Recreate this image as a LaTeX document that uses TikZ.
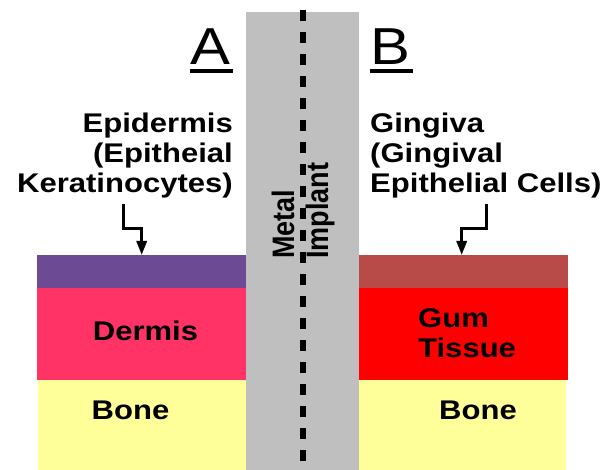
\documentclass[tikz,border=0pt]{standalone}
\usepackage{fontspec}
\setmainfont{Liberation Sans}
\usepackage{graphicx}
\usetikzlibrary{arrows.meta}
\definecolor{epiA}{HTML}{6D4A94}
\definecolor{epiB}{HTML}{B84A48}
\definecolor{dermis}{HTML}{FF3366}
\definecolor{gum}{HTML}{FF0000}
\definecolor{bone}{HTML}{FFFF99}
\definecolor{metal}{HTML}{BFBFBF}
\newcommand{\hs}[1]{\scalebox{1.15}[1]{#1}}
\tikzset{
  lab/.style={font=\fontsize{27}{30}\selectfont\bfseries, inner sep=0pt, text=black},
  big/.style={font=\fontsize{52}{52}\selectfont, inner sep=0pt},
  layer/.style={draw=none},
  arr/.style={line width=3pt, -{Triangle[length=14pt,width=10pt]}},
  uline/.style={line width=3.3pt},
}
\begin{document}
\begin{tikzpicture}[x=1pt,y=-1pt]
\useasboundingbox (0,0) rectangle (611,470);
% left column
\fill[epiA] (36.5,255) rectangle (246,288);
\fill[dermis] (36.5,288) rectangle (246,380);
\fill[bone] (38.3,380) rectangle (246,470);
% right column
\fill[epiB] (358.5,255) rectangle (567.5,288);
\fill[gum] (358.5,288) rectangle (567.5,380);
\fill[bone] (358.5,380) rectangle (565.7,470);
% implant
\fill[metal] (246,12) rectangle (358.5,470);
\draw[line width=5.5pt, dash pattern=on 11pt off 11pt] (303,10) -- (303,470);
% titles
\node[big, anchor=base west] (A) at (190,65) {\hs{A}};
\draw[uline] ([yshift=-6pt]A.base west) -- ([xshift=3pt,yshift=-6pt]A.base east);
\node[big, anchor=base west] (B) at (370,65) {\hs{B}};
\draw[uline] ([yshift=-6pt]B.base west) -- ([xshift=3pt,yshift=-6pt]B.base east);
% upper labels
\node[lab, anchor=base east] (epiL) at (233,133) {\hs{\begin{tabular}[t]{@{}r@{}}Epidermis\\(Epitheial\\Keratinocytes)\end{tabular}}};
\node[lab, anchor=base west] (gingL) at (370,133) {\hs{\begin{tabular}[t]{@{}l@{}}Gingiva\\(Gingival\\Epithelial Cells)\end{tabular}}};
% arrows
\coordinate (a1s) at (123.3,204);
\coordinate (a1e) at (141.7,255);
\coordinate (a2s) at (486.7,204);
\coordinate (a2e) at (461.7,255);
\draw[arr] (a1s) -- ++(0,24.3) -| (a1e);
\draw[arr] (a2s) -- ++(0,24.3) -| (a2e);
% layer labels
\node[lab, anchor=base] (derm) at (145.5,341) {\hs{Dermis}};
\node[lab, anchor=base] (boneA) at (130.5,420) {\hs{Bone}};
\node[lab, anchor=base] (boneB) at (478,420) {\hs{Bone}};
\node[lab, anchor=base west] (gumL) at (418,328) {\hs{\begin{tabular}[t]{@{}l@{}}Gum\\Tissue\end{tabular}}};
% implant label
\node[lab, rotate=90, anchor=base west] (impl) at (294,259) {\scalebox{1}[1.15]{\begin{tabular}[t]{@{}l@{}}Metal\\Implant\end{tabular}}};
\end{tikzpicture}
\end{document}
